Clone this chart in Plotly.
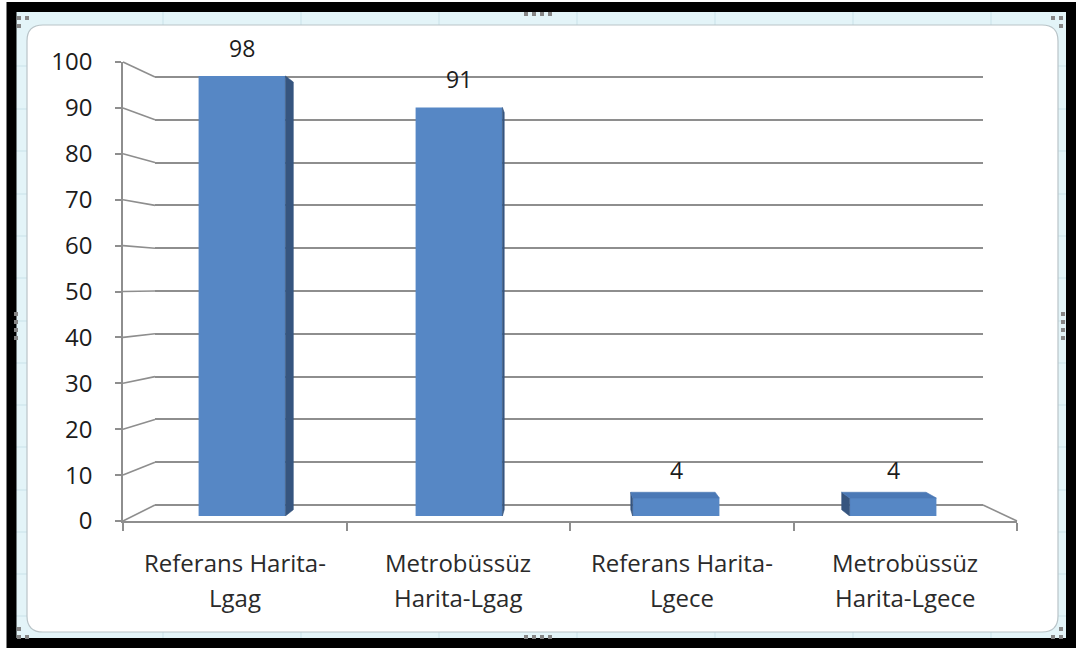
import plotly.graph_objects as go

# ---- data -------------------------------------------------------------
category_lines = [
    ("Referans Harita-", "Lgag"),
    ("Metrobüssüz", "Harita-Lgag"),
    ("Referans Harita-", "Lgece"),
    ("Metrobüssüz", "Harita-Lgece"),
]
values = [98, 91, 4, 4]
y_ticks = [0, 10, 20, 30, 40, 50, 60, 70, 80, 90, 100]

# ---- page geometry ----------------------------------------------------
W, H = 1080, 648
FONT = "Open Sans"
TEXT = "#1c1c1c"
GRID = "#8e8e8e"
BAR = "#5687C5"
BAR_SIDE = "#36557F"
BAR_TOP = "#4B79B6"


def px(x):
    return x / W


def py(y):
    return 1 - y / H


# domains (paper fractions) of the three layers of the 3-D look
wall_x = [px(155), px(983)]          # back wall with gridlines
wall_y = [py(505), py(77)]
front_x = [px(123), px(1017)]        # front value / category axes
front_y = [py(521), py(62)]
bar_x = [px(133.5), px(1001.5)]      # columns
bar_y = [py(516), py(67)]

n = len(values)
idx = list(range(n))
X_RANGE = [-0.5, n - 0.5]
Y_RANGE = [0, 100]

# the wall axis gets a little head-room so its 0 and 100 gridlines are kept;
# its domain is widened by the same amount so the scale is unchanged
PAD = 3
wall_unit = (wall_y[1] - wall_y[0]) / (Y_RANGE[1] - Y_RANGE[0])
wall_y_padded = [wall_y[0] - PAD * wall_unit, wall_y[1] + PAD * wall_unit]

# simple perspective for column depth: back = front + DEPTH * (VANISH - front)
VANISH = (1.5, 50.0)
DEPTH = 0.028
HALF = 0.2

fig = go.Figure()

# empty traces so that the wall and front-axis subplots are always built
fig.add_trace(go.Scatter(x=[None], y=[None], xaxis="x", yaxis="y",
                         mode="markers", hoverinfo="skip", showlegend=False))
fig.add_trace(go.Scatter(x=[None], y=[None], xaxis="x2", yaxis="y2",
                         mode="markers", hoverinfo="skip", showlegend=False))

# columns (front faces)
fig.add_trace(go.Bar(
    x=idx, y=values, width=2 * HALF, xaxis="x3", yaxis="y3",
    marker=dict(color=BAR, line=dict(width=0)), hoverinfo="skip",
    showlegend=False,
))


def back(pt):
    return (pt[0] + DEPTH * (VANISH[0] - pt[0]), pt[1] + DEPTH * (VANISH[1] - pt[1]))


def face(points, color):
    xs = [p[0] for p in points] + [points[0][0]]
    ys = [p[1] for p in points] + [points[0][1]]
    fig.add_trace(go.Scatter(
        x=xs, y=ys, xaxis="x3", yaxis="y3", mode="lines", fill="toself",
        fillcolor=color, line=dict(width=0.6, color=color), hoverinfo="skip",
        showlegend=False,
    ))


for i, v in zip(idx, values):
    left, right = i - HALF, i + HALF
    # visible side face
    if right < VANISH[0]:
        ft, fb = (right, v), (right, 0)
        face([ft, back(ft), back(fb), fb], BAR_SIDE)
    elif left > VANISH[0]:
        ft, fb = (left, v), (left, 0)
        face([ft, back(ft), back(fb), fb], BAR_SIDE)
    # visible top face
    if v < VANISH[1]:
        tl, tr = (left, v), (right, v)
        face([tl, tr, back(tr), back(tl)], BAR_TOP)

# ---- shapes: frame, chart area, perspective connectors ----------------
shapes = []

# light cyan band inside the black frame
shapes.append(dict(type="rect", xref="paper", yref="paper",
                   x0=px(11), x1=px(1071), y0=py(643), y1=py(7),
                   fillcolor="#E3F4F8", line=dict(width=0), layer="below"))
# faint worksheet cell lines
for gx in [163, 301, 439, 577, 715, 853, 991]:
    shapes.append(dict(type="line", xref="paper", yref="paper",
                       x0=px(gx), x1=px(gx), y0=py(640), y1=py(10),
                       line=dict(color="#C9E2E9", width=1), layer="below"))
for gy in [66, 109, 151, 194, 236, 278, 321, 363, 405, 447, 490, 532, 574, 616]:
    shapes.append(dict(type="line", xref="paper", yref="paper",
                       x0=px(14), x1=px(1068), y0=py(gy), y1=py(gy),
                       line=dict(color="#C9E2E9", width=1), layer="below"))

# white rounded chart area
x0, x1, y0, y1, r = 27, 1058, 25, 632, 16
path = (
    f"M {px(x0 + r)} {py(y0)} L {px(x1 - r)} {py(y0)} "
    f"Q {px(x1)} {py(y0)} {px(x1)} {py(y0 + r)} "
    f"L {px(x1)} {py(y1 - r)} Q {px(x1)} {py(y1)} {px(x1 - r)} {py(y1)} "
    f"L {px(x0 + r)} {py(y1)} Q {px(x0)} {py(y1)} {px(x0)} {py(y1 - r)} "
    f"L {px(x0)} {py(y0 + r)} Q {px(x0)} {py(y0)} {px(x0 + r)} {py(y0)} Z"
)
shapes.append(dict(type="path", xref="paper", yref="paper", path=path,
                   fillcolor="white", line=dict(color="#B9C4C8", width=1.2),
                   layer="below"))

# black outer frame
shapes.append(dict(type="rect", xref="paper", yref="paper",
                   x0=px(11.5), x1=px(1071), y0=py(643), y1=py(7),
                   fillcolor="rgba(0,0,0,0)", line=dict(color="black", width=10),
                   layer="below"))

# selection handles of the chart object
handles = []
for hx in [526, 534, 542, 550]:
    handles += [(hx, 14), (hx, 637)]
for hy in [314, 322, 330, 338]:
    handles += [(16, hy), (1063, hy)]
handles += [(19, 18), (27, 18), (19, 26),
            (1053, 18), (1061, 18), (1061, 26),
            (19, 629), (19, 637), (27, 637),
            (1061, 629), (1061, 637), (1053, 637)]
for hx, hy in handles:
    shapes.append(dict(type="rect", xref="paper", yref="paper",
                       x0=px(hx - 2), x1=px(hx + 2), y0=py(hy + 2), y1=py(hy - 2),
                       fillcolor="#858585", line=dict(width=0), layer="above"))


def frac(domain, v):
    return domain[0] + (domain[1] - domain[0]) * (v - Y_RANGE[0]) / (Y_RANGE[1] - Y_RANGE[0])


# diagonal connectors from the front value axis to the back wall
for t in y_ticks:
    shapes.append(dict(type="line", xref="paper", yref="paper",
                       x0=front_x[0], y0=frac(front_y, t),
                       x1=wall_x[0], y1=frac(wall_y, t),
                       line=dict(color=GRID, width=1.6), layer="below"))
# right edge of the floor
shapes.append(dict(type="line", xref="paper", yref="paper",
                   x0=wall_x[1], y0=frac(wall_y, 0),
                   x1=front_x[1], y1=frac(front_y, 0),
                   line=dict(color=GRID, width=1.6), layer="below"))

# ---- annotations: value labels and two-line category labels -----------
annotations = []
for i, v in zip(idx, values):
    annotations.append(dict(x=i, y=v, xref="x3", yref="y3", text=str(v),
                            showarrow=False, yshift=28, yanchor="middle",
                            font=dict(family=FONT, size=23, color=TEXT)))
for i, (l1, l2) in zip(idx, category_lines):
    for line_text, ly in ((l1, 562), (l2, 597)):
        annotations.append(dict(x=i, y=py(ly), xref="x2", yref="paper",
                                text=line_text, showarrow=False, yanchor="middle",
                                font=dict(family=FONT, size=24, color="#2a2a2a")))

fig.update_layout(
    width=W, height=H,
    margin=dict(l=0, r=0, t=0, b=0, pad=0, autoexpand=False),
    paper_bgcolor="white",
    plot_bgcolor="rgba(0,0,0,0)",
    showlegend=False,
    font=dict(family=FONT, size=23, color=TEXT),
    shapes=shapes,
    annotations=annotations,
    # back wall gridlines
    xaxis=dict(domain=wall_x, range=[0, 1], anchor="y",
               showticklabels=False, ticks="", showgrid=False,
               zeroline=False, showline=False),
    yaxis=dict(domain=wall_y_padded, range=[Y_RANGE[0] - PAD, Y_RANGE[1] + PAD],
               anchor="x", tickvals=y_ticks, showticklabels=False, ticks="",
               showgrid=True, gridcolor=GRID, gridwidth=1.6,
               zeroline=False, showline=False),
    # front axes
    xaxis2=dict(domain=front_x, range=X_RANGE, anchor="y2",
                tickvals=[i - 0.5 for i in range(n + 1)], showticklabels=False,
                ticks="outside", ticklen=8, tickwidth=1.6, tickcolor=GRID,
                showline=True, linecolor=GRID, linewidth=1.6,
                showgrid=False, zeroline=False),
    yaxis2=dict(domain=front_y, range=Y_RANGE, anchor="x2",
                tickvals=y_ticks, ticktext=[str(t) for t in y_ticks],
                ticks="outside", ticklen=6, tickwidth=1.6, tickcolor=GRID,
                ticklabelstandoff=18,
                tickfont=dict(family=FONT, size=24, color=TEXT),
                showline=True, linecolor=GRID, linewidth=1.6,
                showgrid=False, zeroline=False),
    # columns
    xaxis3=dict(domain=bar_x, range=X_RANGE, anchor="y3", visible=False),
    yaxis3=dict(domain=bar_y, range=Y_RANGE, anchor="x3", visible=False),
)

fig.write_html("out.html")
